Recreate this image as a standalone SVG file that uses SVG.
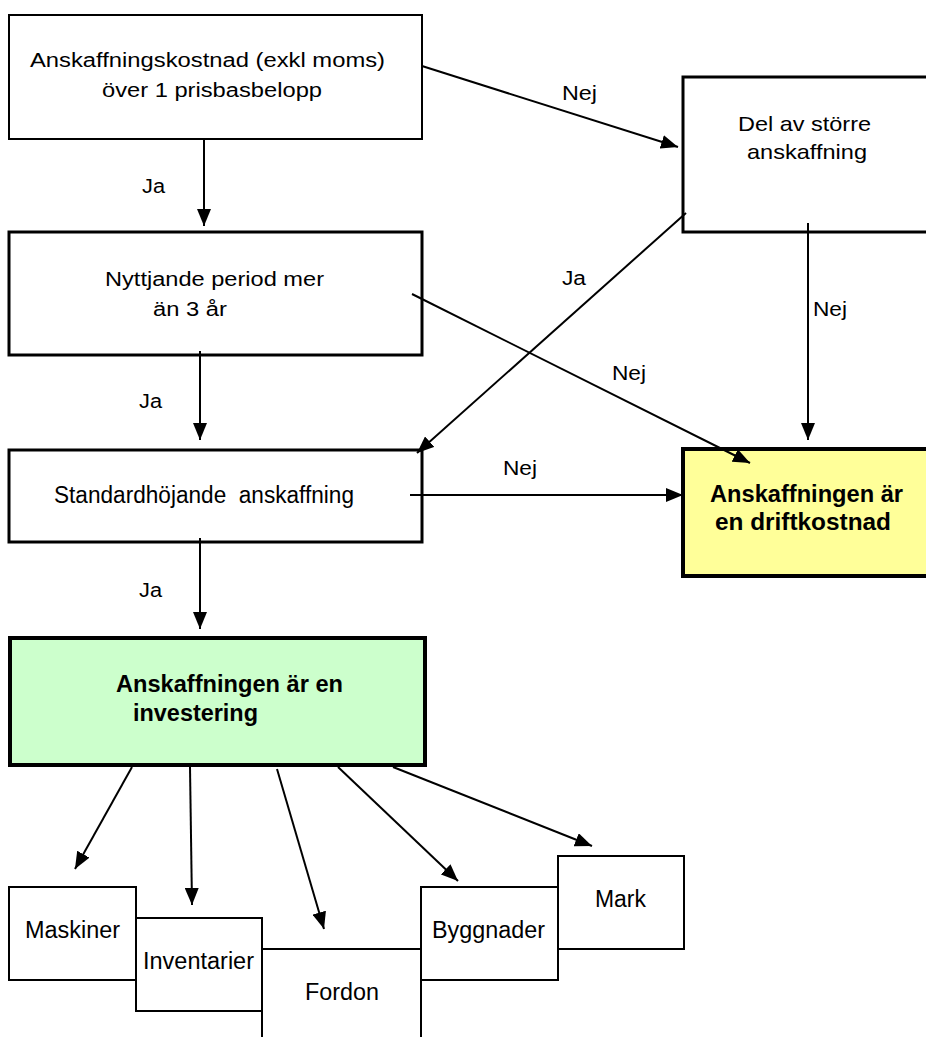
<svg xmlns="http://www.w3.org/2000/svg" width="926" height="1037" viewBox="0 0 926 1037">
<style>
text{font-family:"Liberation Sans",Arial,sans-serif;fill:#000;white-space:pre}
.n{fill:#fff;stroke:#000}
.t1{font-size:20px}
.t2{font-size:21px}
.t3{font-size:23px}
.b{font-weight:bold}
.c{stroke:#000;stroke-width:2;fill:none;marker-end:url(#ah)}
</style>
<defs>
<marker id="ah" markerUnits="userSpaceOnUse" markerWidth="18" markerHeight="14" refX="17" refY="7" orient="auto">
<path d="M0,0 L17,7 L0,14 z" fill="#000"/>
</marker>
</defs>
<rect width="926" height="1037" fill="#fff"/>
<g id="n1"><rect class="n" x="9" y="15" width="413" height="124" stroke-width="2"/>
<text class="t1" x="30" y="67" textLength="355" lengthAdjust="spacingAndGlyphs">Anskaffningskostnad (exkl moms)</text>
<text class="t1" x="102" y="97" textLength="220" lengthAdjust="spacingAndGlyphs">över 1 prisbasbelopp</text></g>
<g id="n2"><rect class="n" x="9" y="232" width="413" height="123" stroke-width="3"/>
<text class="t1" x="105" y="286" textLength="219" lengthAdjust="spacingAndGlyphs">Nyttjande period mer</text>
<text class="t1" x="153" y="316" textLength="74" lengthAdjust="spacingAndGlyphs">än 3 år</text></g>
<g id="n3"><rect class="n" x="9" y="450" width="413" height="92" stroke-width="3"/>
<text class="t3" x="54" y="503" textLength="300" lengthAdjust="spacingAndGlyphs">Standardhöjande  anskaffning</text></g>
<g id="n4"><rect class="n" x="683" y="77" width="260" height="155" stroke-width="3"/>
<text class="t2" x="738" y="131" textLength="133" lengthAdjust="spacingAndGlyphs">Del av större</text>
<text class="t2" x="747" y="159" textLength="120" lengthAdjust="spacingAndGlyphs">anskaffning</text></g>
<g id="n5"><rect x="683" y="449" width="260" height="127" fill="#ffff99" stroke="#000" stroke-width="4"/>
<text class="t3 b" x="710" y="502" textLength="193" lengthAdjust="spacingAndGlyphs">Anskaffningen är</text>
<text class="t3 b" x="715" y="530" textLength="176" lengthAdjust="spacingAndGlyphs">en driftkostnad</text></g>
<g id="n6"><rect x="10" y="638" width="415" height="127" fill="#ccffcc" stroke="#000" stroke-width="4"/>
<text class="t3 b" x="116" y="692" textLength="227" lengthAdjust="spacingAndGlyphs">Anskaffningen är en</text>
<text class="t3 b" x="133" y="721" textLength="125" lengthAdjust="spacingAndGlyphs">investering</text></g>
<g id="n7"><rect class="n" x="9" y="887" width="127" height="93" stroke-width="2"/>
<text class="t3" x="25" y="938" textLength="95" lengthAdjust="spacingAndGlyphs">Maskiner</text></g>
<g id="n8"><rect class="n" x="136" y="918" width="126" height="93" stroke-width="2"/>
<text class="t3" x="143" y="969" textLength="111" lengthAdjust="spacingAndGlyphs">Inventarier</text></g>
<g id="n9"><rect class="n" x="262" y="949" width="159" height="110" stroke-width="2"/>
<text class="t3" x="305" y="1000" textLength="74" lengthAdjust="spacingAndGlyphs">Fordon</text></g>
<g id="n10"><rect class="n" x="421" y="887" width="137" height="93" stroke-width="2"/>
<text class="t3" x="432" y="938" textLength="113" lengthAdjust="spacingAndGlyphs">Byggnader</text></g>
<g id="n11"><rect class="n" x="558" y="856" width="126" height="93" stroke-width="2"/>
<text class="t3" x="595" y="907" textLength="51" lengthAdjust="spacingAndGlyphs">Mark</text></g>
<g id="connectors">
<line class="c" x1="422" y1="66" x2="678" y2="147"/>
<line class="c" x1="204" y1="139" x2="204" y2="226"/>
<line class="c" x1="200" y1="351" x2="200" y2="440"/>
<line class="c" x1="412" y1="294" x2="750" y2="463"/>
<line class="c" x1="686" y1="213" x2="417" y2="453"/>
<line class="c" x1="808" y1="223" x2="808" y2="440"/>
<line class="c" x1="410" y1="495" x2="683" y2="495"/>
<line class="c" x1="200" y1="538" x2="200" y2="629"/>
<line class="c" x1="132" y1="767" x2="75" y2="869"/>
<line class="c" x1="190" y1="767" x2="192" y2="905"/>
<line class="c" x1="277" y1="769" x2="324" y2="929"/>
<line class="c" x1="338" y1="767" x2="458" y2="881"/>
<line class="c" x1="393" y1="767" x2="592" y2="846"/>
<text class="t1" x="142" y="193" textLength="23" lengthAdjust="spacingAndGlyphs">Ja</text>
<text class="t1" x="139" y="408" textLength="23" lengthAdjust="spacingAndGlyphs">Ja</text>
<text class="t1" x="139" y="597" textLength="23" lengthAdjust="spacingAndGlyphs">Ja</text>
<text class="t1" x="562" y="285" textLength="24" lengthAdjust="spacingAndGlyphs">Ja</text>
<text class="t2" x="562" y="100" textLength="35" lengthAdjust="spacingAndGlyphs">Nej</text>
<text class="t2" x="813" y="316" textLength="34" lengthAdjust="spacingAndGlyphs">Nej</text>
<text class="t2" x="612" y="380" textLength="34" lengthAdjust="spacingAndGlyphs">Nej</text>
<text class="t2" x="503" y="475" textLength="34" lengthAdjust="spacingAndGlyphs">Nej</text>
</g>
</svg>
